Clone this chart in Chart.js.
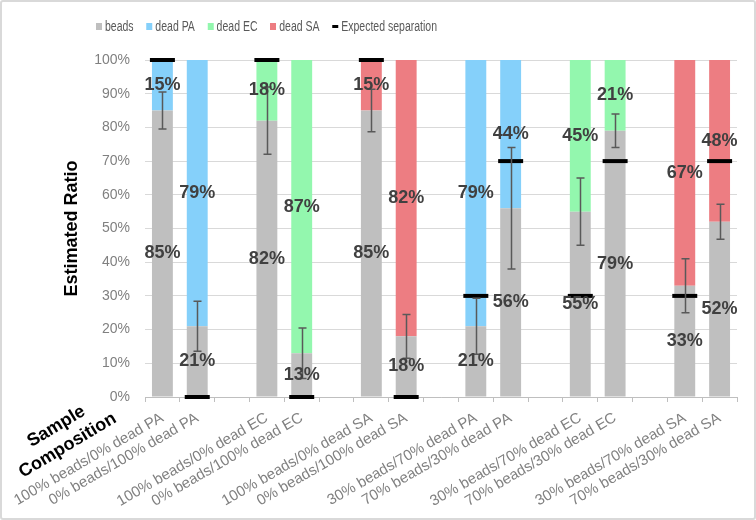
<!DOCTYPE html>
<html>
<head>
<meta charset="utf-8">
<title>Estimated Ratio</title>
<script src="https://cdn.jsdelivr.net/npm/chart.js@4.4.1/dist/chart.umd.min.js"></script>
<style>
    html, body { margin: 0; padding: 0; background: #fff; }
    #wrap { position: relative; width: 756px; height: 520px; overflow: hidden; }
    #chart { position: absolute; left: 0; top: 0; }
    #frame { position: absolute; inset: 0; border: 2px solid #d9d9d9; border-radius: 3px; pointer-events: none; }
    /* narrow legend text, like the original's condensed face */
    #legend {
        position: absolute; top: 18px; left: 96px;
        display: flex; align-items: center; white-space: nowrap;
        font: 14px "Liberation Sans", Arial, sans-serif; color: #595959;
        transform: scaleX(0.75); transform-origin: left center;
    }
    .lg-item { display: flex; align-items: center; margin-right: 17px; }
    .lg-swatch { width: 8px; height: 7px; margin-right: 4px; }
    .lg-dash { width: 8px; height: 3px; background: #000; margin-right: 4px; }
</style>
</head>
<body>
<div id="wrap">
    <canvas id="chart" width="756" height="520"></canvas>
    <div id="legend"></div>
    <div id="frame"></div>
</div>
<script>
// Sample compositions (empty slots keep the gaps between pairs)
const categories = [
    '100% beads/0% dead PA', '0% beads/100% dead PA', '',
    '100% beads/0% dead EC', '0% beads/100% dead EC', '',
    '100% beads/0% dead SA', '0% beads/100% dead SA', '',
    '30% beads/70% dead PA', '70% beads/30% dead PA', '',
    '30% beads/70% dead EC', '70% beads/30% dead EC', '',
    '30% beads/70% dead SA', '70% beads/30% dead SA'
];

// Estimated ratios in %
const beads  = [85, 21, null, 82, 13, null, 85, 18, null, 21, 56, null, 55, 79, null, 33, 52];
const deadPA = [15, 79, null, null, null, null, null, null, null, 79, 44, null, null, null, null, null, null];
const deadEC = [null, null, null, 18, 87, null, null, null, null, null, null, null, 45, 21, null, null, null];
const deadSA = [null, null, null, null, null, null, 15, 82, null, null, null, null, null, null, null, 67, 48];

// +/- error on the beads fraction
const beadsErr = [5.5, 7.4, null, 10, 7.5, null, 6.3, 6.5, null, 8.3, 18, null, 10, 5, null, 8, 5.2];

// Expected beads fraction
const expected = [100, 0, null, 100, 0, null, 100, 0, null, 30, 70, null, 30, 70, null, 30, 70];

const yTicks = [0, 10, 20, 30, 40, 50, 60, 70, 80, 90, 100];

const COLORS = {
    beads: '#bfbfbf',
    pa: '#85d0fa',
    ec: '#93f7ae',
    sa: '#ed7d82'
};

// Error bars, segment labels and the x-axis caption
const overlayPlugin = {
    id: 'overlay',
    afterDatasetsDraw(chart) {
        const ctx = chart.ctx;
        const xs = chart.scales.x, ys = chart.scales.y;

        ctx.save();
        ctx.strokeStyle = '#595959';
        ctx.lineWidth = 1.5;
        beadsErr.forEach((e, i) => {
            if (e == null || beads[i] == null) return;
            const cx = Math.round(xs.getPixelForValue(i)) + 0.5;
            const top = ys.getPixelForValue(beads[i] + e);
            const bot = ys.getPixelForValue(beads[i] - e);
            ctx.beginPath();
            ctx.moveTo(cx, top); ctx.lineTo(cx, bot);
            ctx.moveTo(cx - 4, top); ctx.lineTo(cx + 4, top);
            ctx.moveTo(cx - 4, bot); ctx.lineTo(cx + 4, bot);
            ctx.stroke();
        });

        ctx.font = 'bold 18px "Liberation Sans", Arial, sans-serif';
        ctx.fillStyle = '#404040';
        ctx.textAlign = 'center';
        ctx.textBaseline = 'middle';
        chart.data.datasets.forEach((ds, di) => {
            if (ds.type === 'line') return;
            const meta = chart.getDatasetMeta(di);
            meta.data.forEach((bar, i) => {
                const v = ds.data[i];
                if (v == null) return;
                const p = bar.getProps(['x', 'y', 'base'], true);
                ctx.fillText(v + '%', p.x, (p.y + p.base) / 2);
            });
        });
        ctx.restore();
    },
    afterDraw(chart) {
        const ctx = chart.ctx;
        ctx.save();
        ctx.translate(62, 436);
        ctx.rotate(-31 * Math.PI / 180);
        ctx.font = 'bold 18px "Liberation Sans", Arial, sans-serif';
        ctx.fillStyle = '#000';
        ctx.textAlign = 'center';
        ctx.textBaseline = 'middle';
        ctx.fillText('Sample', 0, -11);
        ctx.fillText('Composition', 0, 11);
        ctx.restore();
    }
};

const barDs = (label, data, color) => ({
    type: 'bar',
    label,
    data,
    backgroundColor: color,
    borderWidth: 0,
    pointStyle: 'rect',
    order: 1
});

const chart = new Chart(document.getElementById('chart').getContext('2d'), {
    data: {
        labels: categories,
        datasets: [
            barDs('beads', beads, COLORS.beads),
            barDs('dead PA', deadPA, COLORS.pa),
            barDs('dead EC', deadEC, COLORS.ec),
            barDs('dead SA', deadSA, COLORS.sa),
            {
                type: 'line',
                label: 'Expected separation',
                data: expected,
                stack: 'sep',
                showLine: false,
                pointStyle: 'line',
                pointRadius: 12.5,
                pointHoverRadius: 12.5,
                pointBorderWidth: 4,
                pointBorderColor: '#000',
                borderColor: '#000',
                backgroundColor: '#000',
                clip: false,
                order: 0
            }
        ]
    },
    options: {
        responsive: false,
        animation: false,
        layout: { padding: { left: 57, right: 19, top: 60, bottom: 0 } },
        datasets: { bar: { barPercentage: 0.6, categoryPercentage: 1 } },
        plugins: {
            legend: { display: false },
            tooltip: { enabled: false }
        },
        scales: {
            x: {
                stacked: true,
                afterFit: (s) => { s.height = 123; },
                grid: { offset: true, drawOnChartArea: false, tickLength: 5, color: '#bfbfbf' },
                border: { color: '#bfbfbf' },
                ticks: {
                    autoSkip: false,
                    maxRotation: 30,
                    minRotation: 30,
                    padding: 7,
                    color: '#808080',
                    font: { size: 15, family: '"Liberation Sans", Arial, sans-serif' }
                }
            },
            y: {
                stacked: true,
                min: 0,
                max: 100,
                afterFit: (s) => { s.width = 88; },
                afterBuildTicks: (s) => { s.ticks = yTicks.map(v => ({ value: v })); },
                grid: { color: '#d9d9d9', drawTicks: false },
                border: { display: false },
                ticks: {
                    padding: 15,
                    color: '#808080',
                    font: { size: 14, family: '"Liberation Sans", Arial, sans-serif' },
                    callback: (v) => v + '%'
                },
                title: {
                    display: true,
                    text: 'Estimated Ratio',
                    color: '#000',
                    font: { size: 18, weight: 'bold', family: '"Liberation Sans", Arial, sans-serif' }
                }
            }
        }
    },
    plugins: [overlayPlugin]
});

// Legend built from the datasets
function buildLegend() {
    const box = document.getElementById('legend');
    box.innerHTML = '';
    chart.data.datasets.forEach(ds => {
        const item = document.createElement('div');
        item.className = 'lg-item';
        const mark = document.createElement('span');
        if (ds.type === 'line') {
            mark.className = 'lg-dash';
        } else {
            mark.className = 'lg-swatch';
            mark.style.background = ds.backgroundColor;
        }
        const txt = document.createElement('span');
        txt.textContent = ds.label;
        item.appendChild(mark);
        item.appendChild(txt);
        box.appendChild(item);
    });
}
buildLegend();
</script>
</body>
</html>
